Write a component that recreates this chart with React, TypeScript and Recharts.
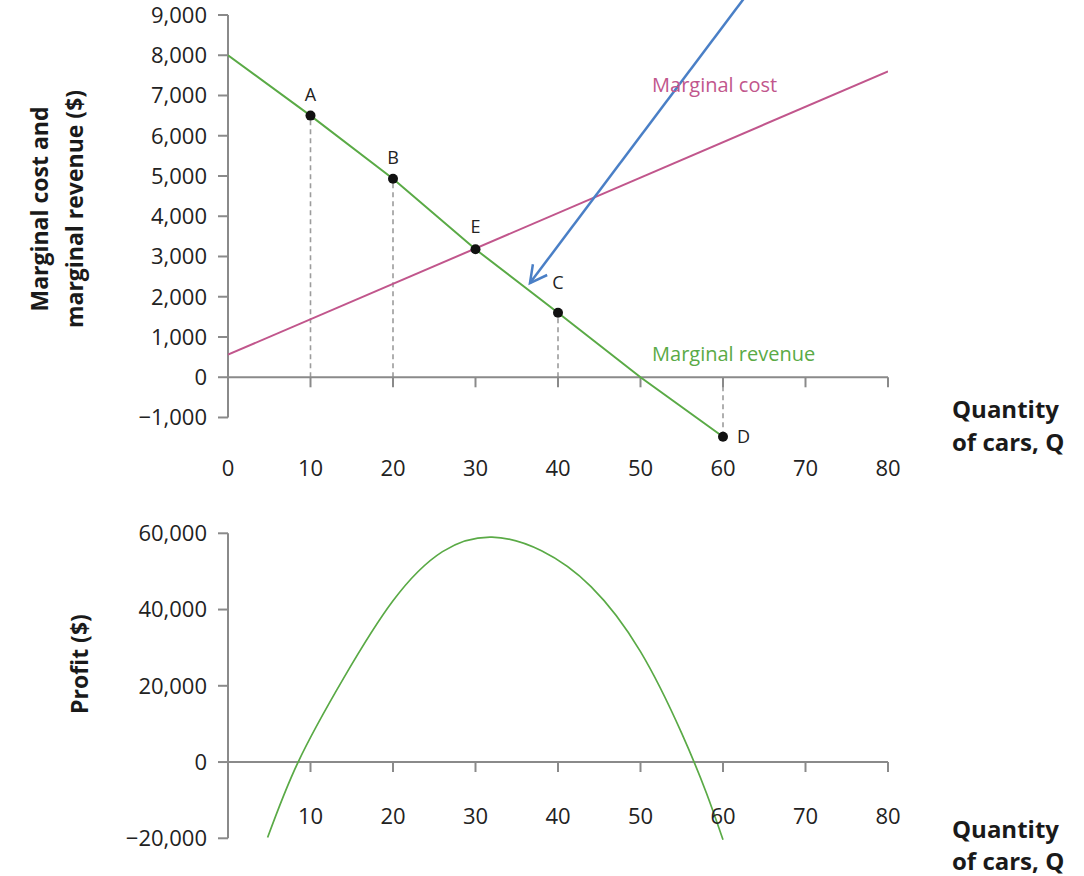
import React from 'react';
import { ComposedChart, Line, XAxis, YAxis, ReferenceLine, ReferenceDot } from 'recharts';

const FONT = '"Open Sans", "Noto Sans", sans-serif';
const GREEN = '#5aaa46';
const PINK = '#c1568c';
const BLUE = '#4a7fc6';
const AXIS = '#8a8a8a';
const GUIDE = '#9c9c9c';
const TEXT = '#222222';

// ---- Top panel data ----
const quantityTicks = [0, 10, 20, 30, 40, 50, 60, 70, 80];
const costTicks = [-1000, 0, 1000, 2000, 3000, 4000, 5000, 6000, 7000, 8000, 9000];

const mrQuantity = [0, 10, 20, 30, 40, 50, 60];
const mrValues = [8000, 6500, 4930, 3180, 1600, 0, -1480];

const mcQuantity = [0, 80];
const mcValues = [560, 7600];

const pointNames = ['A', 'B', 'E', 'C', 'D'];
const pointQuantity = [10, 20, 30, 40, 60];
const pointValues = [6500, 4930, 3180, 1600, -1480];
const guideNames = ['A', 'B', 'C', 'D'];

const arrowFromQ = 62.5;
const arrowFromV = 9400;
const arrowToQ = 36.6;
const arrowToV = 2340;

const mcLabel = 'Marginal cost';
const mcLabelQ = 51.4;
const mcLabelV = 7265;
const mrLabel = 'Marginal revenue';
const mrLabelQ = 51.4;
const mrLabelV = 570;

// ---- Bottom panel data ----
const profitQuantityTicks = [10, 20, 30, 40, 50, 60, 70, 80];
const profitTicks = [-20000, 0, 20000, 40000, 60000];
const profitQuantity = [4.8, 8.5, 14, 20, 26, 32, 38, 44, 50, 55, 58, 60];
const profitValues = [-19800, 0, 21950, 42300, 55200, 59000, 55400, 46000, 28950, 7500, -8200, -20400];

const mrData = mrQuantity.map((q, i) => ({ q, v: mrValues[i] }));
const mcData = mcQuantity.map((q, i) => ({ q, v: mcValues[i] }));
const profitData = profitQuantity.map((q, i) => ({ q, v: profitValues[i] }));

const fmt = (v: number) => (v < 0 ? '\u2212' + Math.abs(v).toLocaleString('en-US') : v.toLocaleString('en-US'));

const QTick = (props: any) => {
  const { x, y, payload, shift } = props;
  return (
    <text x={x} y={y + shift} textAnchor="middle" dominantBaseline="central" fontSize={22} fontFamily={FONT} fill={TEXT}>
      {payload.value}
    </text>
  );
};

const ArrowShape = (props: any) => {
  const { x1, y1, x2, y2 } = props;
  const ang = Math.atan2(y1 - y2, x1 - x2);
  const head = 19;
  const spread = (28 * Math.PI) / 180;
  const ax = x2 + head * Math.cos(ang + spread);
  const ay = y2 + head * Math.sin(ang + spread);
  const bx = x2 + head * Math.cos(ang - spread);
  const by = y2 + head * Math.sin(ang - spread);
  return (
    <g>
      <line x1={x1} y1={y1} x2={x2} y2={y2} stroke={BLUE} strokeWidth={2.5} />
      <polyline points={`${ax},${ay} ${x2},${y2} ${bx},${by}`} fill="none" stroke={BLUE} strokeWidth={2.5} />
    </g>
  );
};

const titleStyle = { fontSize: 23, fontWeight: 700, fontFamily: FONT, fill: '#1a1a1a' } as const;

const TopYTitle = () => (
  <g>
    <text transform="rotate(-90 39 209)" x={39} y={209} textAnchor="middle" dominantBaseline="central" {...titleStyle}>
      Marginal cost and
    </text>
    <text transform="rotate(-90 74 209)" x={74} y={209} textAnchor="middle" dominantBaseline="central" {...titleStyle}>
      marginal revenue ($)
    </text>
  </g>
);

const BottomYTitle = () => (
  <g>
    <text transform="rotate(-90 79 174)" x={79} y={174} textAnchor="middle" dominantBaseline="central" {...titleStyle}>
      Profit ($)
    </text>
  </g>
);

const QuantityTitle = (props: any) => {
  const { b1, b2 } = props;
  return (
    <g>
      <text x={952} y={b1} fontSize={24} fontWeight={700} fontFamily={FONT} fill="#1a1a1a">Quantity</text>
      <text x={952} y={b2} fontSize={24} fontWeight={700} fontFamily={FONT} fill="#1a1a1a">of cars, Q</text>
    </g>
  );
};

const pointLabelPlacement: Record<string, { position: any; offset: number }> = {
  A: { position: 'top', offset: 10 },
  B: { position: 'top', offset: 10 },
  E: { position: 'top', offset: 11 },
  C: { position: 'top', offset: 19 },
  D: { position: 'right', offset: 9 },
};

const TOP_TICK_LEN = 250;
const BOTTOM_TICK_LEN = 2620;

export default function App() {
  return (
    <div style={{ position: 'absolute', left: 0, top: 0, width: 1084, height: 876, background: '#fff' }}>
      <ComposedChart width={1084} height={490} margin={{ top: 15, right: 196, bottom: 12.4, left: 0 }}>
        <XAxis
          type="number"
          dataKey="q"
          domain={[0, 80]}
          ticks={quantityTicks}
          interval={0}
          allowDataOverflow
          axisLine={false}
          tickLine={false}
          tickSize={0}
          tickMargin={0}
          height={40}
          tick={<QTick shift={29.4} />}
          label={<QuantityTitle b1={418} b2={451} />}
        />
        <YAxis
          type="number"
          domain={[-1500, 9000]}
          ticks={costTicks}
          interval={0}
          allowDataOverflow
          width={228}
          axisLine={false}
          tickLine={{ stroke: AXIS, strokeWidth: 2 }}
          tickSize={10}
          tickMargin={11}
          tickFormatter={fmt}
          tick={{ fontSize: 22, fontFamily: FONT, fill: TEXT }}
          label={<TopYTitle />}
        />
        {pointNames.map((n, i) =>
          guideNames.includes(n) ? (
            <ReferenceLine
              key={'g' + n}
              segment={[{ x: pointQuantity[i], y: 0 }, { x: pointQuantity[i], y: pointValues[i] }]}
              stroke={GUIDE}
              strokeWidth={1.6}
              strokeDasharray="5 4"
              ifOverflow="visible"
            />
          ) : null
        )}
        <ReferenceLine segment={[{ x: 0, y: costTicks[0] }, { x: 0, y: costTicks[costTicks.length - 1] }]} stroke={AXIS} strokeWidth={2} ifOverflow="visible" />
        <ReferenceLine y={0} stroke={AXIS} strokeWidth={2} ifOverflow="visible" />
        {quantityTicks.filter((t) => t > 0).map((t) => (
          <ReferenceLine key={'t' + t} segment={[{ x: t, y: 0 }, { x: t, y: -TOP_TICK_LEN }]} stroke={AXIS} strokeWidth={2} ifOverflow="visible" />
        ))}
        <Line data={mcData} dataKey="v" type="linear" stroke={PINK} strokeWidth={2} dot={false} activeDot={false} isAnimationActive={false} />
        <Line data={mrData} dataKey="v" type="linear" stroke={GREEN} strokeWidth={2} dot={false} activeDot={false} isAnimationActive={false} />
        {pointNames.map((n, i) => (
          <ReferenceDot
            key={'p' + n}
            x={pointQuantity[i]}
            y={pointValues[i]}
            r={5}
            fill="#111"
            stroke="none"
            ifOverflow="visible"
            label={{ value: n, position: pointLabelPlacement[n].position, offset: pointLabelPlacement[n].offset, fontSize: 18, fontFamily: FONT, fill: TEXT }}
          />
        ))}
        <ReferenceDot x={mcLabelQ} y={mcLabelV} r={0} fill="none" stroke="none" ifOverflow="visible"
          label={{ value: mcLabel, position: 'right', offset: 0, fontSize: 20, fontFamily: FONT, fill: PINK }} />
        <ReferenceDot x={mrLabelQ} y={mrLabelV} r={0} fill="none" stroke="none" ifOverflow="visible"
          label={{ value: mrLabel, position: 'right', offset: 0, fontSize: 20, fontFamily: FONT, fill: GREEN }} />
        <ReferenceLine
          segment={[{ x: arrowFromQ, y: arrowFromV }, { x: arrowToQ, y: arrowToV }]}
          ifOverflow="visible"
          shape={ArrowShape}
        />
      </ComposedChart>

      <ComposedChart width={1084} height={386} margin={{ top: 43.3, right: 196, bottom: 3.9, left: 0 }}>
        <XAxis
          type="number"
          dataKey="q"
          domain={[0, 80]}
          ticks={profitQuantityTicks}
          interval={0}
          allowDataOverflow
          axisLine={false}
          tickLine={false}
          tickSize={0}
          tickMargin={0}
          height={30}
          tick={<QTick shift={-27.1} />}
          label={<QuantityTitle b1={348} b2={380} />}
        />
        <YAxis
          type="number"
          domain={[-21000, 60000]}
          ticks={profitTicks}
          interval={0}
          allowDataOverflow
          width={228}
          axisLine={false}
          tickLine={{ stroke: AXIS, strokeWidth: 2 }}
          tickSize={10}
          tickMargin={11}
          tickFormatter={fmt}
          tick={{ fontSize: 22, fontFamily: FONT, fill: TEXT }}
          label={<BottomYTitle />}
        />
        <ReferenceLine segment={[{ x: 0, y: profitTicks[0] }, { x: 0, y: profitTicks[profitTicks.length - 1] }]} stroke={AXIS} strokeWidth={2} ifOverflow="visible" />
        <ReferenceLine y={0} stroke={AXIS} strokeWidth={2} ifOverflow="visible" />
        {profitQuantityTicks.map((t) => (
          <ReferenceLine key={'bt' + t} segment={[{ x: t, y: 0 }, { x: t, y: -BOTTOM_TICK_LEN }]} stroke={AXIS} strokeWidth={2} ifOverflow="visible" />
        ))}
        <Line data={profitData} dataKey="v" type="natural" stroke={GREEN} strokeWidth={1.7} dot={false} activeDot={false} isAnimationActive={false} />
      </ComposedChart>
    </div>
  );
}
